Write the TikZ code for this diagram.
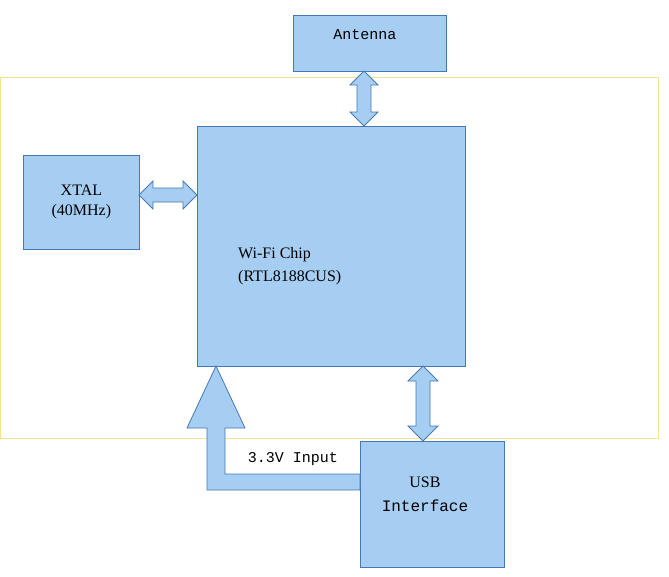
\documentclass[tikz,border=0pt]{standalone}
\usepackage{fontspec}
\setmainfont{Liberation Serif}
\setmonofont{Liberation Mono}
\begin{document}
\begin{tikzpicture}[x=1pt,y=-1pt,
  box/.style={draw=boxline,fill=boxfill,line width=0.8pt},
  lbl/.style={font=\fontsize{16}{18}\selectfont,inner sep=0pt,align=center}]
\definecolor{boxfill}{RGB}{166,206,242}
\definecolor{boxline}{RGB}{70,120,180}
\definecolor{yel}{RGB}{250,225,140}
\useasboundingbox (0,0) rectangle (669,576);
\draw[yel,line width=0.8pt] (0,77) rectangle (658,438);
\node[box,minimum width=153,minimum height=56,anchor=north west] (ant) at (293,15) {};
\node[lbl,font=\ttfamily\fontsize{15}{17}\selectfont] at (365,35) {Antenna};
\node[box,minimum width=268,minimum height=240,anchor=north west] (chip) at (197,126) {};
\node[lbl,align=left,anchor=west] at (238,266) {Wi-Fi Chip\\[5pt](RTL8188CUS)};
\node[box,minimum width=116,minimum height=94,anchor=north west] (xtal) at (23,155) {};
\node[lbl] at (xtal.center) {XTAL\\[2pt](40MHz)};
\node[box,minimum width=144,minimum height=126,anchor=north west] (usb) at (360,441) {};
\node[lbl] at (425,494) {USB\\[6pt]\ttfamily Interface};
% double arrows
\draw[box] (364,71)--(378,85)--(371,85)--(371,112)--(378,112)--(364,126)--(350,112)--(357,112)--(357,85)--(350,85)--cycle;
\draw[box] (139,195)--(153,181)--(153,188)--(183,188)--(183,181)--(197,195)--(183,209)--(183,202)--(153,202)--(153,209)--cycle;
\draw[box] (423,366)--(438,381)--(430,381)--(430,426)--(438,426)--(423,441)--(408,426)--(416,426)--(416,381)--(408,381)--cycle;
% power arrow
\draw[box] (360,474)--(225,474)--(225,428)--(245,428)--(216,366)--(187,428)--(207,428)--(207,490)--(360,490)--cycle;
\node[lbl,font=\ttfamily\fontsize{15}{17}\selectfont] at (293,459) {3.3V Input};
\end{tikzpicture}
\end{document}
